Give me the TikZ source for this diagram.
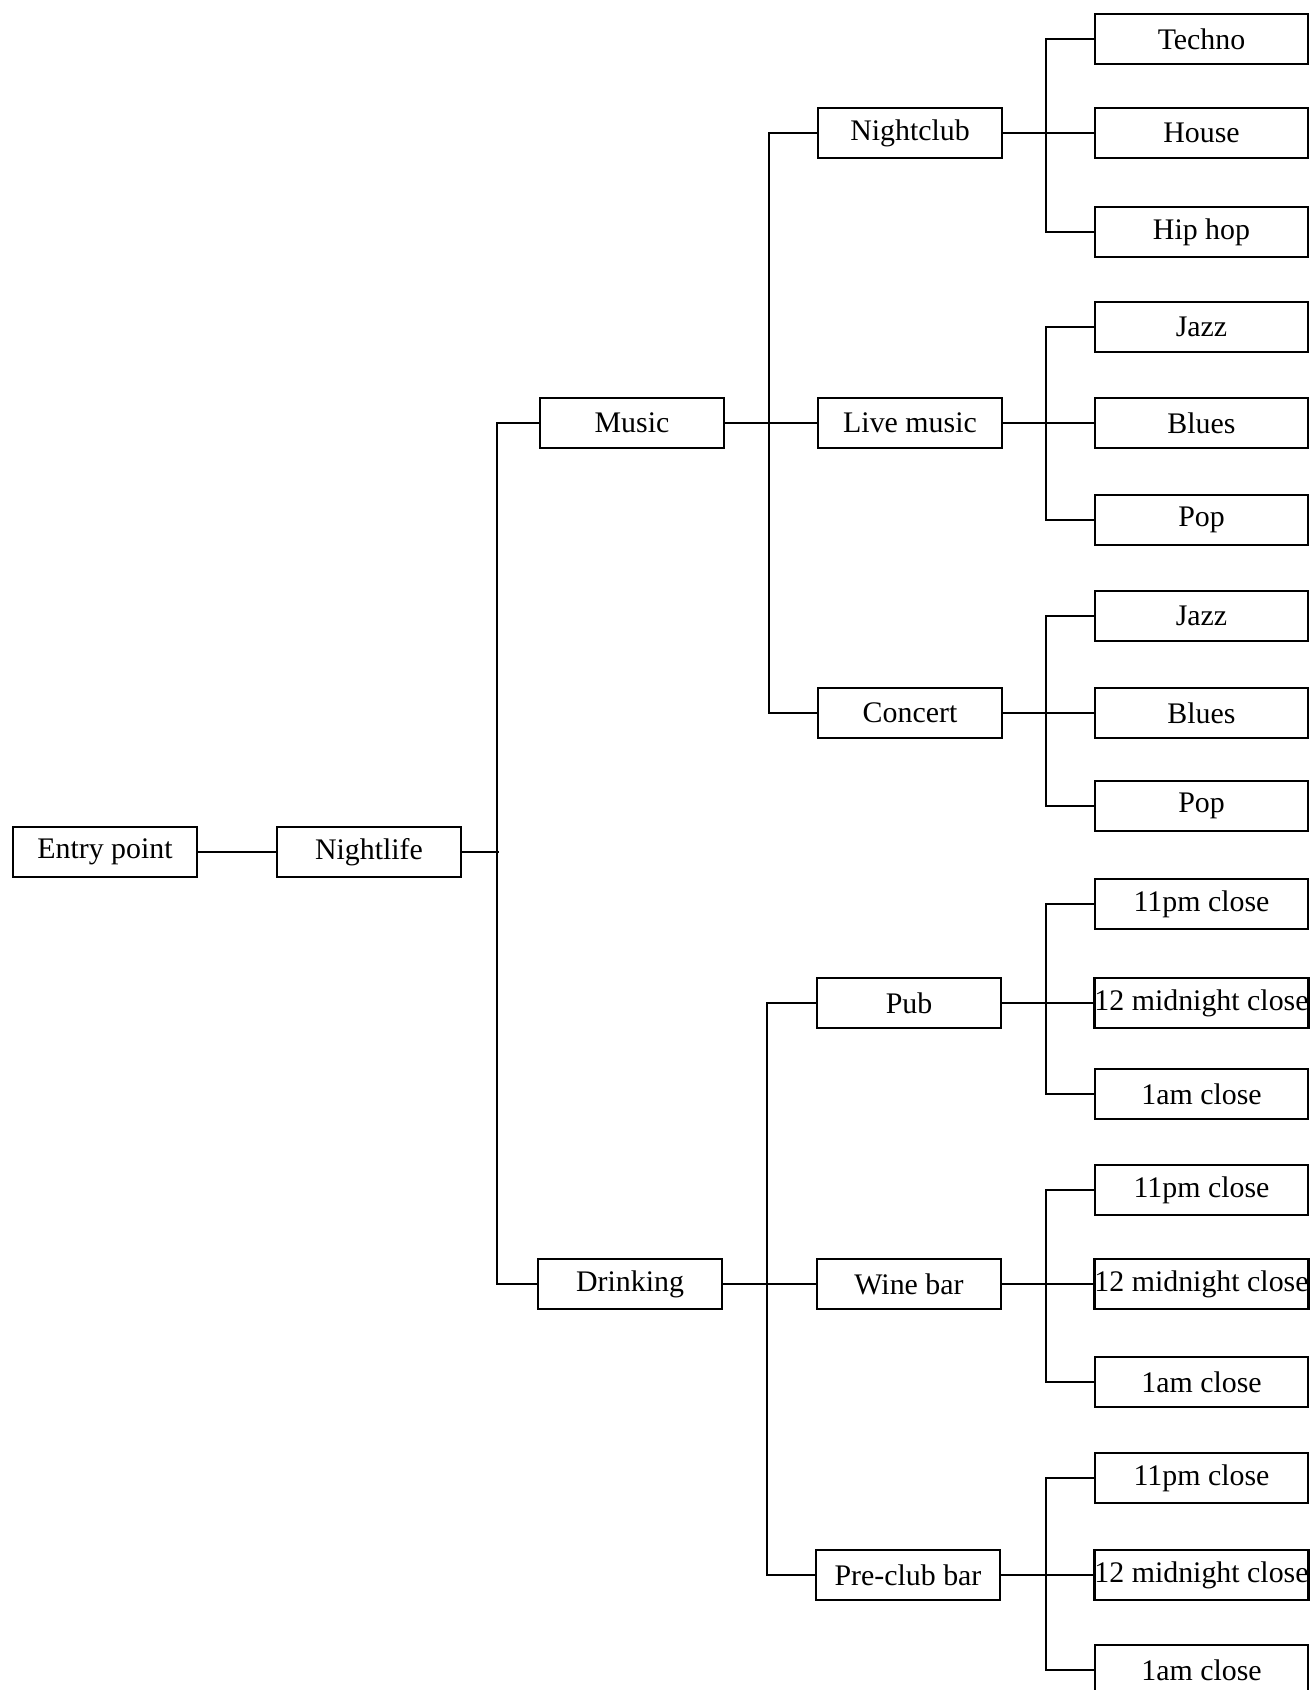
\documentclass[tikz,border=0pt]{standalone}
\usepackage{fontspec}
\setmainfont{Liberation Serif}
\usepackage{tikz}

\tikzset{
  box/.style={draw, line width=1.4pt, minimum width=3.68cm, minimum height=1.0cm, inner sep=0pt, font=\fontsize{17}{20}\selectfont},
  leaf/.style={box, minimum width=4.26cm},
  wire/.style={line width=1.4pt}
}

\begin{document}
\begin{tikzpicture}
\clip (0,0) rectangle (26.2,-33.8);
% left part
\node[box] (entry) at (2.1,-17.04) {Entry point};
\node[box] (night) at (7.38,-17.04) {Nightlife};
\node[box] (music) at (12.64,-8.46) {Music};
\node[box] (drink) at (12.60,-25.68) {Drinking};
% second level
\node[box] (nclub) at (18.2,-2.66) {Nightclub};
\node[box] (live) at (18.2,-8.46) {Live music};
\node[box] (concert) at (18.2,-14.26) {Concert};
\node[box] (pub) at (18.18,-20.06) {Pub};
\node[box] (wine) at (18.18,-25.68) {Wine bar};
\node[box] (preclub) at (18.16,-31.50) {Pre-club bar};
% leaves
\node[leaf] (techno) at (24.03,-0.78) {Techno};
\node[leaf] (house) at (24.03,-2.66) {House};
\node[leaf] (hiphop) at (24.03,-4.64) {Hip hop};
\node[leaf] (jazza) at (24.03,-6.54) {Jazz};
\node[leaf] (bluesa) at (24.03,-8.46) {Blues};
\node[leaf] (popa) at (24.03,-10.40) {Pop};
\node[leaf] (jazzb) at (24.03,-12.32) {Jazz};
\node[leaf] (bluesb) at (24.03,-14.26) {Blues};
\node[leaf] (popb) at (24.03,-16.12) {Pop};
\node[leaf] (elevena) at (24.03,-18.08) {11pm close};
\node[leaf] (twelvea) at (24.03,-20.06) {12 midnight close};
\node[leaf] (onea) at (24.03,-21.88) {1am close};
\node[leaf] (elevenb) at (24.03,-23.80) {11pm close};
\node[leaf] (twelveb) at (24.03,-25.68) {12 midnight close};
\node[leaf] (oneb) at (24.03,-27.64) {1am close};
\node[leaf] (elevenc) at (24.03,-29.56) {11pm close};
\node[leaf] (twelvec) at (24.03,-31.50) {12 midnight close};
\node[leaf] (onec) at (24.03,-33.40) {1am close};

\draw[wire] (entry) -- (night);
\draw[wire] (night.east) -- ++(0.74,0);
\draw[wire] (music.west) -- ++(-0.84,0) |- (drink.west);

\draw[wire] (music) -- (live);
\draw[wire] (nclub.west) -- ++(-0.96,0) |- (concert.west);
\draw[wire] (drink) -- (wine);
\draw[wire] (pub.west) -- ++(-0.98,0) |- (preclub.west);

\draw[wire] (nclub) -- (house);
\draw[wire] (techno.west) -- ++(-0.96,0) |- (hiphop.west);
\draw[wire] (live) -- (bluesa);
\draw[wire] (jazza.west) -- ++(-0.96,0) |- (popa.west);
\draw[wire] (concert) -- (bluesb);
\draw[wire] (jazzb.west) -- ++(-0.96,0) |- (popb.west);
\draw[wire] (pub) -- (twelvea);
\draw[wire] (elevena.west) -- ++(-0.96,0) |- (onea.west);
\draw[wire] (wine) -- (twelveb);
\draw[wire] (elevenb.west) -- ++(-0.96,0) |- (oneb.west);
\draw[wire] (preclub) -- (twelvec);
\draw[wire] (elevenc.west) -- ++(-0.96,0) |- (onec.west);
\end{tikzpicture}
\end{document}
